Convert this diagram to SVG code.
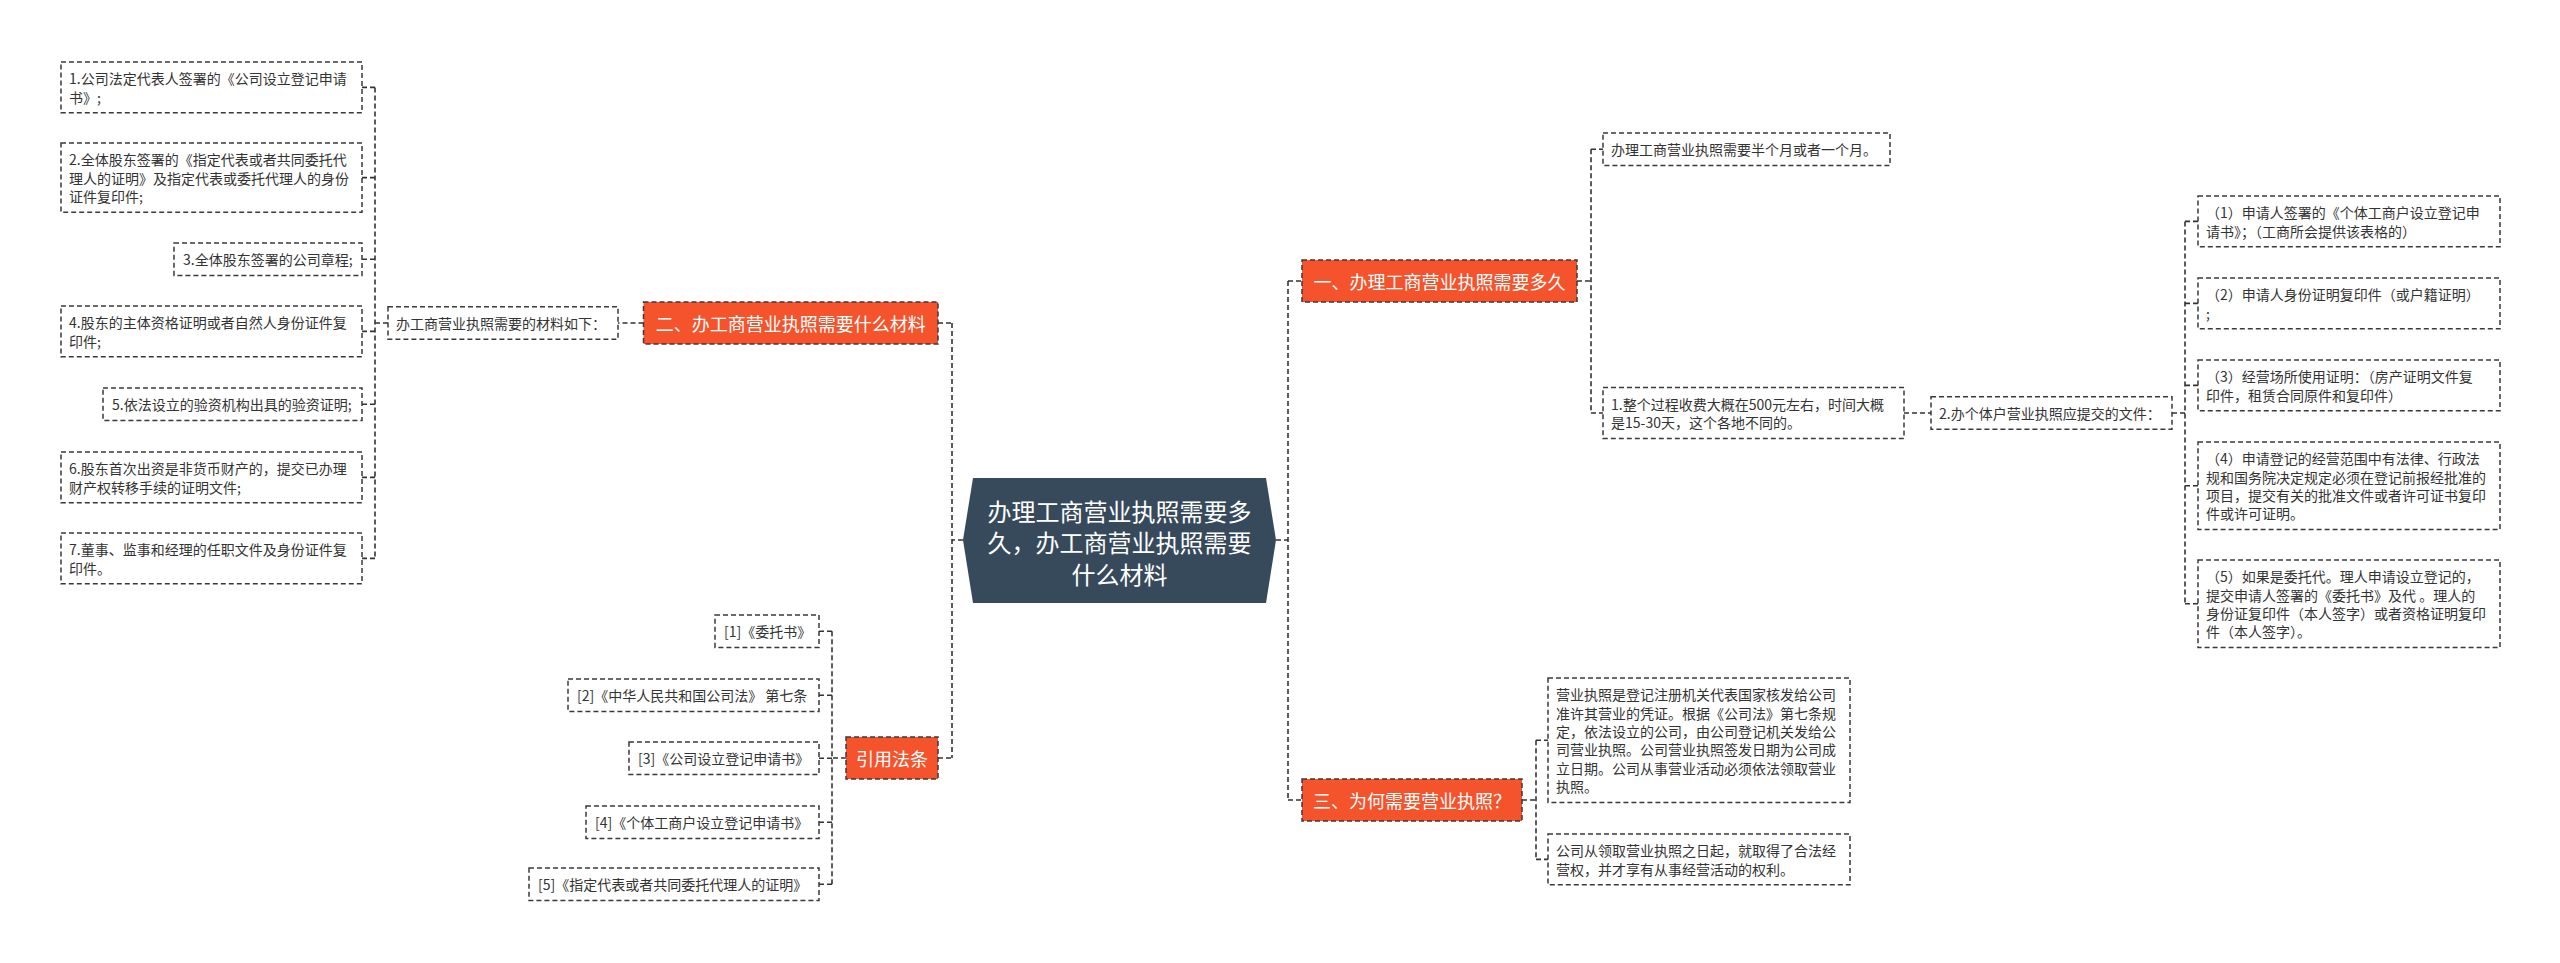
<svg xmlns="http://www.w3.org/2000/svg" width="2560" height="963" viewBox="0 0 2560 963">
<style>
.leaf rect{fill:#fff;stroke:#3a3a3a;stroke-width:1.5;stroke-dasharray:5 3}
.leaf text{font-family:"Noto Sans CJK SC","Noto Sans",sans-serif;font-size:14px;fill:#333;dominant-baseline:central}
.topic rect{fill:#f4532c;stroke:#3a3a3a;stroke-width:1.5;stroke-dasharray:5 3}
.topic text{font-family:"Noto Sans CJK SC","Noto Sans",sans-serif;font-size:18px;fill:#fff;text-anchor:middle;dominant-baseline:central}
.root polygon{fill:#374a5c}
.root text{font-family:"Noto Sans CJK SC","Noto Sans",sans-serif;font-size:24px;fill:#fff;text-anchor:middle;dominant-baseline:central}
.conn path{fill:none;stroke:#333;stroke-width:1.6;stroke-dasharray:5 3}
</style>
<rect width="2560" height="963" fill="#fff"/>
<g id="connectors" class="conn">
<path d="M963,540 H952 M952,323 V758 M938,323 H952 M938,758 H952"/>
<path d="M643.5,323 H618 M388,323 H375 M375,87.4 V558.4 M375,87.4 H362 M375,177.6 H362 M375,259.2 H362 M375,331.4 H362 M375,404.2 H362 M375,477.4 H362 M375,558.4 H362"/>
<path d="M846,758 H832 M832,631.2 V884.2 M832,631.2 H819 M832,695.2 H819 M832,758.2 H819 M832,822.2 H819 M832,884.2 H819"/>
<path d="M1276,540 H1288 M1288,281 V800 M1288,281 H1302 M1288,800 H1302"/>
<path d="M1577,281 H1591 M1591,149.2 V413 M1591,149.2 H1603 M1591,413 H1603 M1904,413 H1931"/>
<path d="M2172,413 H2185 M2185,221.4 V603.8 M2185,221.4 H2198 M2185,303.4 H2198 M2185,385.4 H2198 M2185,485.8 H2198 M2185,603.8 H2198"/>
<path d="M1522,800 H1536 M1536,740.2 V859.4 M1536,740.2 H1548 M1536,859.4 H1548"/>
</g>
<g id="root" class="root">
<polygon points="973,478 1266,478 1276,540 1266,603 973,603 963,540"/>
<text x="1119.5"><tspan x="1119.5" y="509.5">办理工商营业执照需要多</tspan><tspan x="1119.5" y="541">久，办工商营业执照需要</tspan><tspan x="1119.5" y="572.5">什么材料</tspan></text>
</g>
<g id="topic-2" class="topic"><rect x="643.5" y="302" width="294.5" height="42"/><text x="790.75" y="323">二、办工商营业执照需要什么材料</text></g>
<g id="topic-ref" class="topic"><rect x="846" y="737" width="92" height="42"/><text x="892" y="758">引用法条</text></g>
<g id="topic-1" class="topic"><rect x="1302" y="260" width="275" height="42"/><text x="1439.5" y="281">一、办理工商营业执照需要多久</text></g>
<g id="topic-3" class="topic"><rect x="1302" y="779" width="220" height="42"/><text x="1412" y="800">三、为何需要营业执照？</text></g>
<g id="mat-intro" class="leaf"><rect x="388" y="306.8" width="230" height="32.4"/><text x="396" y="323">办工商营业执照需要的材料如下：</text></g>
<g id="mat-1" class="leaf"><rect x="61" y="62" width="301" height="50.8"/><text><tspan x="69" y="78.2">1.公司法定代表人签署的《公司设立登记申请</tspan><tspan x="69" y="96.6">书》;</tspan></text></g>
<g id="mat-2" class="leaf"><rect x="61" y="143" width="301" height="69.2"/><text><tspan x="69" y="159.2">2.全体股东签署的《指定代表或者共同委托代</tspan><tspan x="69" y="177.6">理人的证明》及指定代表或委托代理人的身份</tspan><tspan x="69" y="196">证件复印件;</tspan></text></g>
<g id="mat-3" class="leaf"><rect x="174" y="243" width="188" height="32.4"/><text x="183" y="259.2">3.全体股东签署的公司章程;</text></g>
<g id="mat-4" class="leaf"><rect x="61" y="306" width="301" height="50.8"/><text><tspan x="69" y="322.2">4.股东的主体资格证明或者自然人身份证件复</tspan><tspan x="69" y="340.6">印件;</tspan></text></g>
<g id="mat-5" class="leaf"><rect x="103" y="388" width="259" height="32.4"/><text x="112" y="404.2">5.依法设立的验资机构出具的验资证明;</text></g>
<g id="mat-6" class="leaf"><rect x="61" y="452" width="301" height="50.8"/><text><tspan x="69" y="468.2">6.股东首次出资是非货币财产的，提交已办理</tspan><tspan x="69" y="486.6">财产权转移手续的证明文件;</tspan></text></g>
<g id="mat-7" class="leaf"><rect x="61" y="533" width="301" height="50.8"/><text><tspan x="69" y="549.2">7.董事、监事和经理的任职文件及身份证件复</tspan><tspan x="69" y="567.6">印件。</tspan></text></g>
<g id="ref-1" class="leaf"><rect x="715" y="615" width="104" height="32.4"/><text x="724" y="631.2">[1]《委托书》</text></g>
<g id="ref-2" class="leaf"><rect x="568" y="679" width="251" height="32.4"/><text x="577" y="695.2">[2]《中华人民共和国公司法》 第七条</text></g>
<g id="ref-3" class="leaf"><rect x="629" y="742" width="190" height="32.4"/><text x="638" y="758.2">[3]《公司设立登记申请书》</text></g>
<g id="ref-4" class="leaf"><rect x="586" y="806" width="233" height="32.4"/><text x="595" y="822.2">[4]《个体工商户设立登记申请书》</text></g>
<g id="ref-5" class="leaf"><rect x="529" y="868" width="290" height="32.4"/><text x="538" y="884.2">[5]《指定代表或者共同委托代理人的证明》</text></g>
<g id="time-1" class="leaf"><rect x="1603" y="133" width="287" height="32.4"/><text x="1611" y="149.2">办理工商营业执照需要半个月或者一个月。</text></g>
<g id="time-2" class="leaf"><rect x="1603" y="387.6" width="301" height="50.8"/><text><tspan x="1611" y="403.8">1.整个过程收费大概在500元左右，时间大概</tspan><tspan x="1611" y="422.2">是15-30天，这个各地不同的。</tspan></text></g>
<g id="docs" class="leaf"><rect x="1931" y="396.8" width="241" height="32.4"/><text x="1939" y="413">2.办个体户营业执照应提交的文件：</text></g>
<g id="doc-1" class="leaf"><rect x="2198" y="196" width="302" height="50.8"/><text><tspan x="2206" y="212.2">（1）申请人签署的《个体工商户设立登记申</tspan><tspan x="2206" y="230.6">请书》；（工商所会提供该表格的）</tspan></text></g>
<g id="doc-2" class="leaf"><rect x="2198" y="278" width="302" height="50.8"/><text><tspan x="2206" y="294.2">（2）申请人身份证明复印件（或户籍证明）</tspan><tspan x="2206" y="312.6">;</tspan></text></g>
<g id="doc-3" class="leaf"><rect x="2198" y="360" width="302" height="50.8"/><text><tspan x="2206" y="376.2">（3）经营场所使用证明：（房产证明文件复</tspan><tspan x="2206" y="394.6">印件，租赁合同原件和复印件）</tspan></text></g>
<g id="doc-4" class="leaf"><rect x="2198" y="442" width="302" height="87.6"/><text><tspan x="2206" y="458.2">（4）申请登记的经营范围中有法律、行政法</tspan><tspan x="2206" y="476.6">规和国务院决定规定必须在登记前报经批准的</tspan><tspan x="2206" y="495">项目，提交有关的批准文件或者许可证书复印</tspan><tspan x="2206" y="513.4">件或许可证明。</tspan></text></g>
<g id="doc-5" class="leaf"><rect x="2198" y="560" width="302" height="87.6"/><text><tspan x="2206" y="576.2">（5）如果是委托代。理人申请设立登记的，</tspan><tspan x="2206" y="594.6">提交申请人签署的《委托书》及代 。理人的</tspan><tspan x="2206" y="613">身份证复印件（本人签字）或者资格证明复印</tspan><tspan x="2206" y="631.4">件（本人签字）。</tspan></text></g>
<g id="why-1" class="leaf"><rect x="1548" y="678" width="302" height="124.4"/><text><tspan x="1556" y="694.2">营业执照是登记注册机关代表国家核发给公司</tspan><tspan x="1556" y="712.6">准许其营业的凭证。根据《公司法》第七条规</tspan><tspan x="1556" y="731">定，依法设立的公司，由公司登记机关发给公</tspan><tspan x="1556" y="749.4">司营业执照。公司营业执照签发日期为公司成</tspan><tspan x="1556" y="767.8">立日期。公司从事营业活动必须依法领取营业</tspan><tspan x="1556" y="786.2">执照。</tspan></text></g>
<g id="why-2" class="leaf"><rect x="1548" y="834" width="302" height="50.8"/><text><tspan x="1556" y="850.2">公司从领取营业执照之日起，就取得了合法经</tspan><tspan x="1556" y="868.6">营权，并才享有从事经营活动的权利。</tspan></text></g>
</svg>
